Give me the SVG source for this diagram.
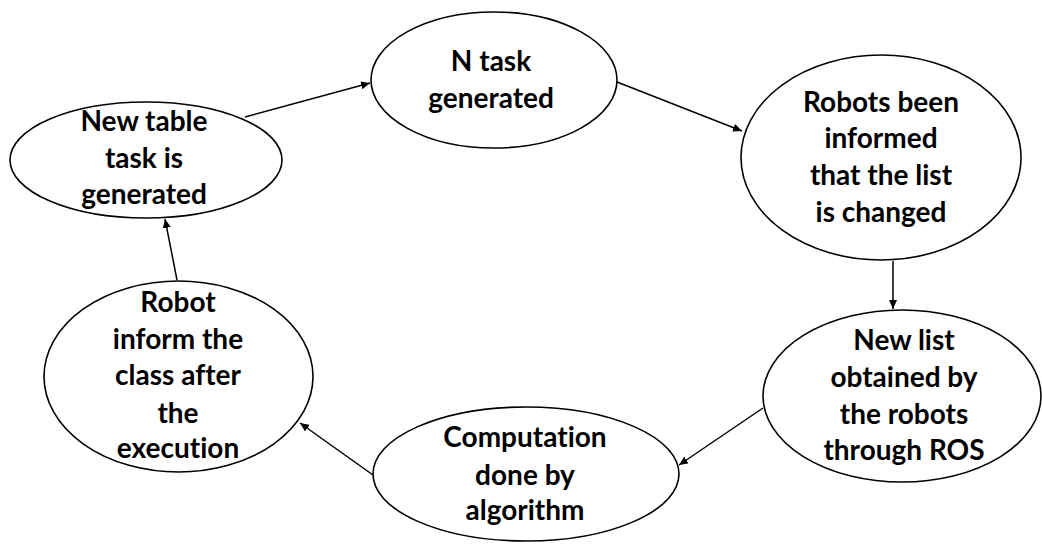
<svg xmlns="http://www.w3.org/2000/svg" width="1042" height="544" viewBox="0 0 1042 544">
  <style>
    .node ellipse { fill: #ffffff; stroke: #000000; stroke-width: 1.6; }
    .node text { font-family: Lato, "Liberation Sans", sans-serif; font-weight: bold; font-size: 28px; fill: #000000; text-anchor: middle; font-variant-ligatures: none; }
    .edges line { stroke: #000000; stroke-width: 1.5; marker-end: url(#arrow); }
  </style>
  <defs>
    <marker id="arrow" markerUnits="userSpaceOnUse" markerWidth="9" markerHeight="8" refX="9" refY="4" orient="auto">
      <path d="M0,0 L9,4 L0,8 z" fill="#000000"/>
    </marker>
  </defs>
  <rect width="1042" height="544" fill="#ffffff"/>

  <g class="edges" id="connectors">
    <line x1="245" y1="117" x2="370" y2="83"/>
    <line x1="617" y1="82" x2="742" y2="131"/>
    <line x1="893" y1="261" x2="893" y2="309"/>
    <line x1="763" y1="408" x2="679" y2="465"/>
    <line x1="373" y1="475" x2="300" y2="423"/>
    <line x1="177" y1="280" x2="165" y2="219"/>
  </g>

  <g class="node" id="new-table-task">
    <ellipse cx="146" cy="160" rx="136" ry="58"/>
    <text x="144" y="131">New table</text>
    <text x="144" y="168">task is</text>
    <text x="144" y="204">generated</text>
  </g>

  <g class="node" id="n-task-generated">
    <ellipse cx="494" cy="80" rx="123" ry="68"/>
    <text x="491" y="71">N task</text>
    <text x="491" y="108">generated</text>
  </g>

  <g class="node" id="robots-informed">
    <ellipse cx="881" cy="157.5" rx="140" ry="102.5"/>
    <text x="881" y="112">Robots been</text>
    <text x="881" y="148">informed</text>
    <text x="881" y="185">that the list</text>
    <text x="881" y="222">is changed</text>
  </g>

  <g class="node" id="new-list-obtained">
    <ellipse cx="902" cy="396" rx="139" ry="86"/>
    <text x="904" y="350">New list</text>
    <text x="904" y="387">obtained by</text>
    <text x="904" y="424">the robots</text>
    <text x="904" y="460">through ROS</text>
  </g>

  <g class="node" id="computation">
    <ellipse cx="526" cy="474" rx="153" ry="67"/>
    <text x="525" y="447">Computation</text>
    <text x="525" y="485">done by</text>
    <text x="525" y="520">algorithm</text>
  </g>

  <g class="node" id="robot-inform-class">
    <ellipse cx="178.5" cy="376.5" rx="134.5" ry="95.5"/>
    <text x="178" y="312">Robot</text>
    <text x="178" y="349">inform the</text>
    <text x="178" y="385">class after</text>
    <text x="178" y="423">the</text>
    <text x="178" y="458">execution</text>
  </g>
</svg>
